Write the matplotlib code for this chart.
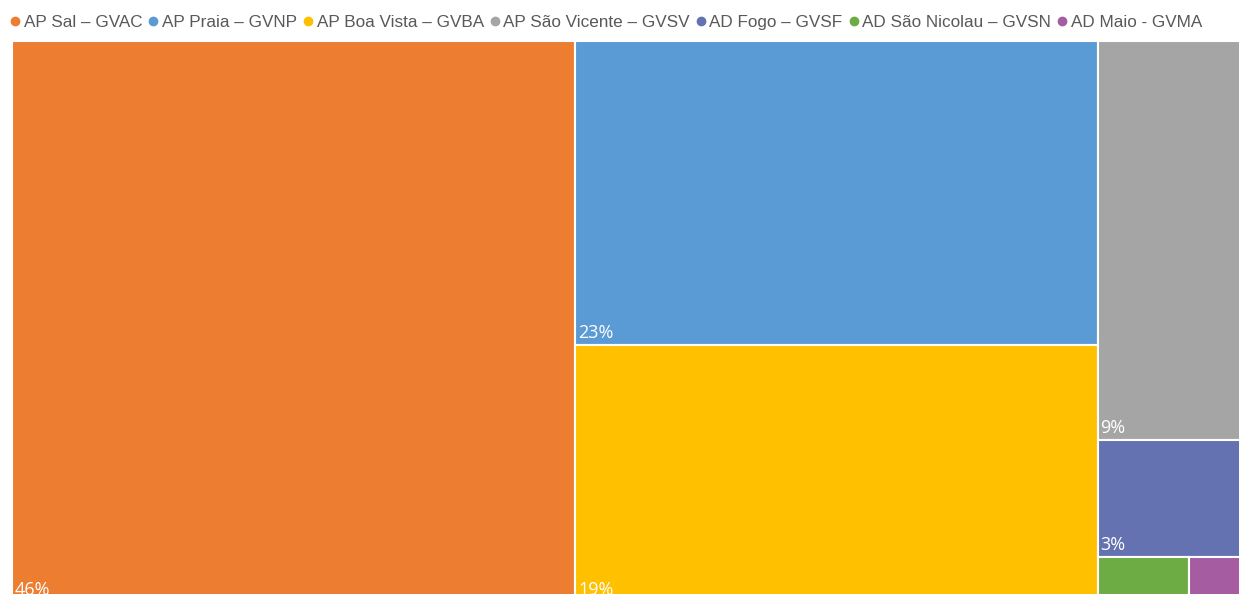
import matplotlib.pyplot as plt
from matplotlib.patches import Rectangle
from matplotlib.lines import Line2D

# Airports and share of traffic (%).
names = ['AP Sal – GVAC', 'AP Praia – GVNP', 'AP Boa Vista – GVBA',
         'AP São Vicente – GVSV', 'AD Fogo – GVSF', 'AD São Nicolau – GVSN',
         'AD Maio - GVMA']
shares = [45.6, 22.9, 19.4, 8.6, 2.52, 0.6, 0.38]
colors = ['#ED7D31', '#5B9BD5', '#FFC000', '#A5A5A5', '#6472B2', '#6DAB45', '#A65CA1']


def aspects(row, side, total, area):
    # width of strip, and aspect ratio of each piece in it
    thick = sum(row) / total * area / side
    out = []
    for v in row:
        length = v / sum(row) * side
        out.append(max(thick / length, length / thick))
    return out


def layout(vals, x, y, w, h):
    # squarified layout (mean aspect criterion), y measured from top
    rects = []
    vals = list(vals)
    total = sum(vals)
    while vals:
        area = w * h
        side = min(w, h)
        row = [vals[0]]
        best = sum(aspects(row, side, total, area))
        for v in vals[1:]:
            test = row + [v]
            a = aspects(test, side, total, area)
            if sum(a) / len(a) < best / len(row):
                row = test
                best = sum(a)
            else:
                break
        s = sum(row)
        thick = s / total * area / side
        pos = 0
        for v in row:
            length = v / s * side
            if w >= h:  # column on the left
                rects.append((x, y + pos, thick, length))
            else:       # strip on top
                rects.append((x + pos, y, length, thick))
            pos += length
        if w >= h:
            x += thick
            w -= thick
        else:
            y += thick
            h -= thick
        vals = vals[len(row):]
        total -= s
    return rects


W, H = 1235.0, 561.0
fig = plt.figure(figsize=(12.39, 5.94), dpi=100)
ax = fig.add_axes([12 / 1239, -8 / 594, W / 1239, H / 594])
ax.set_xlim(0, W)
ax.set_ylim(H, 0)
ax.axis('off')

for (x, y, w, h), c, v in zip(layout(shares, 0, 0, W, H), colors, shares):
    ax.add_patch(Rectangle((x, y), w, h, facecolor=c, edgecolor='white', lw=1.5))
    if v >= 1:
        ax.text(x + 3, y + h - 3, '%d%%' % round(v), color='white', fontsize=13,
                family='Open Sans', ha='left', va='bottom')

handles = [Line2D([], [], marker='o', ls='', color=c, markersize=6) for c in colors]
fig.legend(handles, names, loc='upper left', bbox_to_anchor=(-0.0085, 1.0), ncol=7,
           frameon=False, handletextpad=-0.1, columnspacing=0.05, handlelength=1.2,
           prop={'family': 'Liberation Sans', 'size': 12.3}, labelcolor='#595959')

fig.savefig('out.png', dpi=100)
